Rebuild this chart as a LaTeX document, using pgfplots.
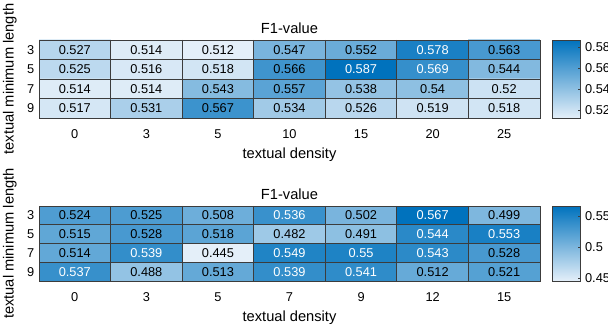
\documentclass[border=0pt]{standalone}
\usepackage{pgfplots}
\pgfplotsset{compat=1.18}
\usepackage{pgfplotstable}
\usepackage{fontspec}
\setmainfont{Liberation Sans}
\definecolor{gridc}{RGB}{60,60,60}
\newcommand{\fs}{\fontsize{9.6}{11}\selectfont}
\newcommand{\fl}{\fontsize{11}{13}\selectfont}

\pgfplotstableread{
x y c w
0 0 0.527 0
1 0 0.514 0
2 0 0.512 0
3 0 0.547 0
4 0 0.552 0
5 0 0.578 1
6 0 0.563 0
0 1 0.525 0
1 1 0.516 0
2 1 0.518 0
3 1 0.566 0
4 1 0.587 1
5 1 0.569 1
6 1 0.544 0
0 2 0.514 0
1 2 0.514 0
2 2 0.543 0
3 2 0.557 0
4 2 0.538 0
5 2 0.54 0
6 2 0.52 0
0 3 0.517 0
1 3 0.531 0
2 3 0.567 0
3 3 0.534 0
4 3 0.526 0
5 3 0.519 0
6 3 0.518 0
}\topdata

\pgfplotstableread{
x y c w
0 0 0.524 0
1 0 0.525 0
2 0 0.508 0
3 0 0.536 1
4 0 0.502 0
5 0 0.567 1
6 0 0.499 0
0 1 0.515 0
1 1 0.528 0
2 1 0.518 0
3 1 0.482 0
4 1 0.491 0
5 1 0.544 1
6 1 0.553 1
0 2 0.514 0
1 2 0.539 1
2 2 0.445 0
3 2 0.549 1
4 2 0.55 1
5 2 0.543 1
6 2 0.528 0
0 3 0.537 1
1 3 0.488 0
2 3 0.513 0
3 3 0.539 1
4 3 0.541 1
5 3 0.512 0
6 3 0.521 0
}\botdata

\pgfplotsset{
  /pgf/number format/assume math mode=true,
  colorbar/width=21pt,
  colorbar shift/.style={xshift=9pt},
  hm/.style={
    scale only axis, width=375.75pt,
    enlargelimits=false, axis on top,
    xmin=-0.5, xmax=6.5, ymin=-0.5, ymax=3.5,
    y dir=reverse,
    xtick={0,...,6}, ytick={0,...,3}, yticklabels={3,5,7,9},
    major tick length=0pt,
    extra x ticks={0.5,1.5,...,5.5}, extra x tick labels={},
    extra y ticks={0.5,1.5,2.5}, extra y tick labels={},
    extra tick style={grid=major, major grid style={gridc, line width=0.6pt}},
    axis line style={gridc, line width=0.6pt},
    tick label style={font=\fs, black},
    xticklabel style={yshift=-5.5pt},
    xlabel style={yshift=0pt},
    label style={font=\fl},
    ylabel style={yshift=1pt},
    title style={font=\fl, yshift=-5pt},
    title={F1-value},
    xlabel={textual density}, ylabel={textual minimum length},
    colormap={mb}{rgb255=(228,239,249) rgb255=(0,114,189)},
    colorbar,
  },
  lab/.style={only marks, mark=none, point meta=explicit symbolic,
    nodes near coords, nodes near coords align=center,
    every node near coord/.append style={font=\fs, anchor=center}},
  cb/.style={colorbar style={
    height=#1, width=21pt,
    ytick pos=right, yticklabel pos=right, tick align=inside,
    major tick length=2pt, tick style={gridc},
    axis line style={gridc, line width=0.6pt},
    tick label style={font=\fs, black}}},
}

\begin{document}
\begin{tikzpicture}
\useasboundingbox (0,0) rectangle (456pt,243.75pt);
\begin{axis}[hm, at={(29.25pt,155.25pt)}, anchor=south west, height=58.5pt,
  xticklabels={0,3,5,10,15,20,25},
  point meta min=0.512, point meta max=0.587,
  cb=58.5pt, colorbar style={ytick={0.52,0.54,0.56,0.58}, yticklabels={0.52,0.54,0.56,0.58}}]
\addplot[matrix plot*, mesh/cols=7, point meta=explicit] table[x=x, y=y, meta=c]{\topdata};
\addplot[lab, restrict expr to domain={\thisrow{w}}{-0.5:0.5}, every node near coord/.append style={text=black}] table[x=x, y=y, meta=c]{\topdata};
\addplot[lab, restrict expr to domain={\thisrow{w}}{0.5:1.5}, every node near coord/.append style={text=white}] table[x=x, y=y, meta=c]{\topdata};
\end{axis}
\begin{axis}[hm, at={(29.25pt,33pt)}, anchor=south west, height=56.25pt,
  xticklabels={0,3,5,7,9,12,15},
  point meta min=0.445, point meta max=0.567,
  cb=56.25pt, colorbar style={ytick={0.45,0.5,0.55}, yticklabels={0.45,0.5,0.55}}]
\addplot[matrix plot*, mesh/cols=7, point meta=explicit] table[x=x, y=y, meta=c]{\botdata};
\addplot[lab, restrict expr to domain={\thisrow{w}}{-0.5:0.5}, every node near coord/.append style={text=black}] table[x=x, y=y, meta=c]{\botdata};
\addplot[lab, restrict expr to domain={\thisrow{w}}{0.5:1.5}, every node near coord/.append style={text=white}] table[x=x, y=y, meta=c]{\botdata};
\end{axis}
\end{tikzpicture}
\end{document}
